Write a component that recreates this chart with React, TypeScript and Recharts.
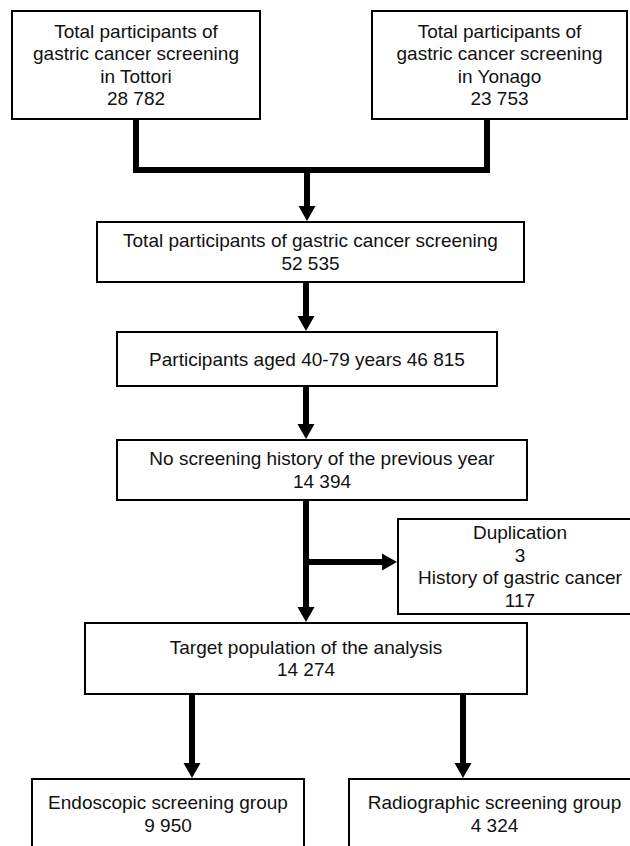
import React from 'react';
import { ComposedChart, XAxis, YAxis, ReferenceArea, Line, Scatter } from 'recharts';

// flow steps, top to bottom
const stepLabels = [
  ['Total participants of', 'gastric cancer screening', 'in Tottori'],
  ['Total participants of', 'gastric cancer screening', 'in Yonago'],
  ['Total participants of gastric cancer screening'],
  ['Participants aged 40-79 years'],
  ['No screening history of the previous year'],
  ['Target population of the analysis'],
  ['Endoscopic screening group'],
  ['Radiographic screening group'],
];
const stepCounts = [28782, 23753, 52535, 46815, 14394, 14274, 9950, 4324];
// count printed on the same line as the label
const countInline = [false, false, false, true, false, false, false, false];

const excludedLabels = ['Duplication', 'History of gastric cancer'];
const excludedCounts = [3, 117];

// diagram layout in page pixels (axis units)
const W = 630;
const H = 846;
const stepBoxes = [
  { x1: 12, x2: 260, y1: 11, y2: 119 },
  { x1: 372, x2: 627, y1: 11, y2: 119 },
  { x1: 97, x2: 524, y1: 222, y2: 282 },
  { x1: 117, x2: 497, y1: 332, y2: 386 },
  { x1: 117, x2: 527, y1: 440, y2: 500 },
  { x1: 85, x2: 527, y1: 623, y2: 694 },
  { x1: 32, x2: 304, y1: 779, y2: 849 },
  { x1: 349, x2: 640, y1: 779, y2: 849 },
];
const excludedBox = { x1: 398, x2: 642, y1: 519, y2: 614 };

const joinPath = [
  { x: 136, y: 119 },
  { x: 136, y: 170 },
  { x: 487, y: 170 },
  { x: 487, y: 119 },
];

const arrows = [
  { x0: 307, y0: 170, x: 307, y: 221 },
  { x0: 306, y0: 282, x: 306, y: 331 },
  { x0: 306, y0: 386, x: 306, y: 439 },
  { x0: 306, y0: 500, x: 306, y: 622 },
  { x0: 306, y0: 562, x: 397, y: 562 },
  { x0: 192, y0: 694, x: 192, y: 778 },
  { x0: 463, y0: 694, x: 463, y: 778 },
];

const HEAD_LEN = 15;
const HEAD_HALF = 8.5;
const LINE_W = 6;
const LINE_STEP = 22.5;
const FONT = "'Liberation Sans', Arial, Helvetica, sans-serif";

const fmt = (n: number) => n.toLocaleString('en-US').replace(/,/g, ' ');

const textNodes = [
  ...stepBoxes.map((b, i) => ({
    x: (b.x1 + b.x2) / 2,
    y: (b.y1 + b.y2) / 2,
    lines: countInline[i]
      ? [...stepLabels[i].slice(0, -1), `${stepLabels[i][stepLabels[i].length - 1]} ${fmt(stepCounts[i])}`]
      : [...stepLabels[i], fmt(stepCounts[i])],
  })),
  {
    x: (excludedBox.x1 + excludedBox.x2) / 2,
    y: (excludedBox.y1 + excludedBox.y2) / 2,
    lines: excludedLabels.flatMap((l, i) => [l, fmt(excludedCounts[i])]),
  },
];

const shaftData = arrows.map((a) => {
  const dx = Math.sign(a.x - a.x0);
  const dy = Math.sign(a.y - a.y0);
  return [
    { x: a.x0, y: a.y0 },
    { x: a.x - dx * (HEAD_LEN - 1), y: a.y - dy * (HEAD_LEN - 1) },
  ];
});

const headData = arrows.map((a) => ({ x: a.x, y: a.y, dir: a.x !== a.x0 ? 'right' : 'down' }));

const ArrowHead = (props: any) => {
  const { cx, cy, payload } = props;
  const pts =
    payload.dir === 'right'
      ? `${cx - HEAD_LEN},${cy - HEAD_HALF} ${cx - HEAD_LEN},${cy + HEAD_HALF} ${cx},${cy}`
      : `${cx - HEAD_HALF},${cy - HEAD_LEN} ${cx + HEAD_HALF},${cy - HEAD_LEN} ${cx},${cy}`;
  return <polygon points={pts} fill="#000" />;
};

const BoxText = (props: any) => {
  const { cx, cy, payload } = props;
  const n = payload.lines.length;
  return (
    <g>
      {payload.lines.map((line: string, i: number) => (
        <text
          key={i}
          x={cx}
          y={cy + (i - (n - 1) / 2) * LINE_STEP}
          dy="0.35em"
          textAnchor="middle"
          fontFamily={FONT}
          fontSize={19}
          fill="#111"
        >
          {line}
        </text>
      ))}
    </g>
  );
};

export default function App() {
  return (
    <div style={{ position: 'absolute', left: 0, top: 0, width: W, height: H, background: '#fff' }}>
      <ComposedChart width={W} height={H} margin={{ top: 0, right: 0, bottom: 0, left: 0 }}>
        <XAxis type="number" dataKey="x" domain={[0, W]} allowDataOverflow hide />
        <YAxis type="number" dataKey="y" domain={[0, H]} reversed allowDataOverflow hide />

        {[...stepBoxes, excludedBox].map((b, i) => (
          <ReferenceArea
            key={`box-${i}`}
            x1={b.x1}
            x2={b.x2}
            y1={b.y1}
            y2={b.y2}
            ifOverflow="hidden"
            fill="none"
            stroke="#000"
            strokeWidth={2}
          />
        ))}

        <Line
          data={joinPath}
          dataKey="y"
          type="linear"
          stroke="#000"
          strokeWidth={LINE_W}
          strokeLinejoin="miter"
          dot={false}
          activeDot={false}
          isAnimationActive={false}
        />
        {shaftData.map((d, i) => (
          <Line
            key={`shaft-${i}`}
            data={d}
            dataKey="y"
            type="linear"
            stroke="#000"
            strokeWidth={LINE_W}
            dot={false}
            activeDot={false}
            isAnimationActive={false}
          />
        ))}

        <Scatter data={headData} dataKey="y" shape={ArrowHead} isAnimationActive={false} />
        <Scatter data={textNodes} dataKey="y" shape={BoxText} isAnimationActive={false} />
      </ComposedChart>
    </div>
  );
}
